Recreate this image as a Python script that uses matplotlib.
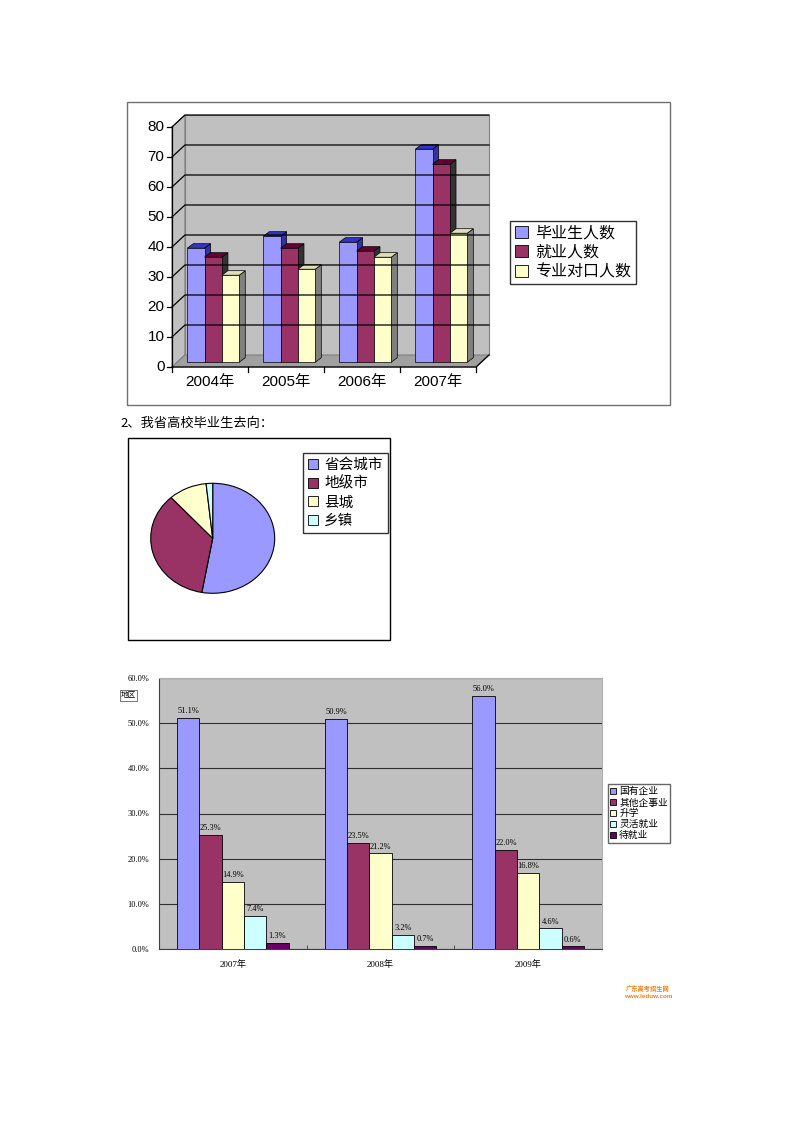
import numpy as np
import matplotlib
matplotlib.use('Agg')
import matplotlib.pyplot as plt
from matplotlib.patches import Polygon, Rectangle, Patch

plt.rcParams['font.family'] = ['Liberation Sans', 'Noto Sans CJK SC']

# --- chart 1 data: graduates / employed / matched-major (3D column) ---
years1 = ['2004年', '2005年', '2006年', '2007年']
graduates = [38, 42, 40, 71]
employed = [35, 38, 37, 66]
matched = [29, 31, 35, 43]
series1 = ['毕业生人数', '就业人数', '专业对口人数']

# --- chart 2 data: destination pie ---
dest_labels = ['省会城市', '地级市', '县城', '乡镇']
dest_share = [52.8, 35.5, 10.0, 1.7]

# --- chart 3 data: employment by type, 2007-2009 ---
years3 = ['2007年', '2008年', '2009年']
series3 = ['国有企业', '其他企事业', '升学', '灵活就业', '待就业']
state_owned = [51.1, 50.9, 56.0]
other_units = [25.3, 23.5, 22.0]
further_study = [14.9, 21.2, 16.8]
flexible = [7.4, 3.2, 4.6]
waiting = [1.3, 0.7, 0.6]

W, H = 800, 1132
fig = plt.figure(figsize=(8, 11.32), dpi=100)
fig.patch.set_facecolor('white')


def fx(px):
    return px / W


def fy(py):
    return 1 - py / H


# frames around chart 1 and chart 2
fig.patches.append(Rectangle((fx(127), fy(405)), fx(543), (405 - 102) / H, transform=fig.transFigure,
                             fill=False, edgecolor='#707070', lw=1))
fig.patches.append(Rectangle((fx(128), fy(640)), fx(262), (640 - 438) / H, transform=fig.transFigure,
                             fill=False, edgecolor='black', lw=1))

# ---------------- chart 1 : fake 3D columns ----------------
DX, DY = 0.17, 4.0          # wall depth offset (x units, value units)
ymax = 80
ax1 = fig.add_axes([fx(172), fy(367), (489 - 172) / W, 252 / H])
ax1.set_xlim(0, 4 + DX)
ax1.set_ylim(0, ymax + DY)
ax1.axis('off')

ax1.add_patch(Polygon([(DX, DY), (4 + DX, DY), (4 + DX, ymax + DY), (DX, ymax + DY)],
                      closed=True, facecolor='#c0c0c0', edgecolor='#808080', lw=0.8, clip_on=False))
ax1.add_patch(Polygon([(0, 0), (DX, DY), (DX, ymax + DY), (0, ymax)],
                      closed=True, facecolor='#c0c0c0', edgecolor='#808080', lw=0.8, clip_on=False))
ax1.add_patch(Polygon([(0, 0), (4, 0), (4 + DX, DY), (DX, DY)],
                      closed=True, facecolor='#a0a0a0', edgecolor='#808080', lw=0.8, clip_on=False))

for v in range(10, ymax + 1, 10):
    ax1.plot([0, DX, 4 + DX], [v, v + DY, v + DY], color='black', lw=0.9, clip_on=False)
ax1.plot([0, 0], [0, ymax], color='black', lw=0.9, clip_on=False)
ax1.plot([0, 4, 4 + DX], [0, 0, DY], color='black', lw=0.9, clip_on=False)
for v in range(0, ymax + 1, 10):
    ax1.plot([-0.06, 0], [v, v], color='black', lw=0.9, clip_on=False)
    ax1.text(-0.1, v, str(v), ha='right', va='center', fontsize=11)
for i in range(5):
    ax1.plot([i, i], [0, -1.5], color='black', lw=0.9, clip_on=False)
for i, lab in enumerate(years1):
    ax1.text(i + 0.5, -2.5, lab, ha='center', va='top', fontsize=11)

front = ['#9999ff', '#993366', '#ffffcc']
top = ['#3333cc', '#660033', '#e0e0b8']
side = ['#333399', '#333333', '#808080']
bw, boff, by0 = 0.228, 0.2, 1.6
ddx, ddy = 0.08, 1.5
for i in range(4):
    for j, vals in enumerate([graduates, employed, matched]):
        h = vals[i]
        x0 = i + boff + j * bw
        yt = by0 + h
        ax1.add_patch(Polygon([(x0 + bw, by0), (x0 + bw + ddx, by0 + ddy), (x0 + bw + ddx, yt + ddy), (x0 + bw, yt)],
                              closed=True, facecolor=side[j], edgecolor='black', lw=0.5, clip_on=False))
        ax1.add_patch(Polygon([(x0, yt), (x0 + bw, yt), (x0 + bw + ddx, yt + ddy), (x0 + ddx, yt + ddy)],
                              closed=True, facecolor=top[j], edgecolor='black', lw=0.5, clip_on=False))
        ax1.bar(x0, h, bottom=by0, width=bw, align='edge', color=front[j], edgecolor='black', lw=0.5,
                clip_on=False)

h1 = [Patch(facecolor=front[j], edgecolor='black', lw=0.6) for j in range(3)]
fig.legend(h1, series1, loc='upper left', bbox_to_anchor=(fx(510), fy(221)), bbox_transform=fig.transFigure,
           borderaxespad=0, fontsize=11.5, frameon=True, fancybox=False, edgecolor='black',
           handlelength=0.8, handleheight=0.8, handletextpad=0.5, labelspacing=0.25, borderpad=0.3)

# ---------------- section heading ----------------
fig.text(fx(120), fy(423), '2、我省高校毕业生去向：', ha='left', va='center', fontsize=9.5,
         family=['Noto Sans CJK SC'])

# ---------------- chart 2 : pie ----------------
cx, cy, rx, ry = 212.7, 538.3, 62, 55
ax2 = fig.add_axes([fx(cx - rx), fy(cy + ry), 2 * rx / W, 2 * ry / H])
pie_colors = ['#9999ff', '#993366', '#ffffcc', '#ccffff']
ax2.pie(dest_share, colors=pie_colors, startangle=90, counterclock=False,
        wedgeprops=dict(edgecolor='black', linewidth=0.8))
ax2.set_aspect('auto')
ax2.set_xlim(-1.0, 1.0)
ax2.set_ylim(-1.0, 1.0)
h2 = [Patch(facecolor=c, edgecolor='black', lw=0.6) for c in pie_colors]
fig.legend(h2, dest_labels, loc='upper left', bbox_to_anchor=(fx(303), fy(453)), bbox_transform=fig.transFigure,
           borderaxespad=0, fontsize=10.5, frameon=True, fancybox=False, edgecolor='black',
           handlelength=0.7, handleheight=0.7, handletextpad=0.4, labelspacing=0.3, borderpad=0.35)

# ---------------- chart 3 : grouped bars ----------------
ax3 = fig.add_axes([fx(159), fy(949), 443 / W, 271 / H])
ax3.set_facecolor('#c0c0c0')
colors3 = ['#9999ff', '#993366', '#ffffcc', '#ccffff', '#660066']
vals3 = [state_owned, other_units, further_study, flexible, waiting]
x = np.arange(len(years3)) + 0.5
bw3 = 0.151
serif = ['Liberation Serif', 'Noto Sans CJK SC']
for j, vals in enumerate(vals3):
    xs = x + (j - 2) * bw3
    ax3.bar(xs, vals, width=bw3, color=colors3[j], edgecolor='black', lw=0.6, label=series3[j], zorder=3)
    for xi, v in zip(xs, vals):
        ax3.text(xi, v + 0.6, f'{v:.1f}%', ha='center', va='bottom', fontsize=6, family=serif, zorder=4)
ax3.set_xlim(0, 3)
ax3.set_ylim(0, 60)
ax3.set_yticks(np.arange(0, 61, 10))
ax3.set_yticklabels([f'{v:.1f}%' for v in np.arange(0, 61, 10)], fontsize=6, family=serif)
ax3.yaxis.grid(True, color='#303030', lw=0.8, zorder=1)
ax3.set_axisbelow(True)
ax3.set_xticks(x)
ax3.set_xticklabels(years3, fontsize=6.5, family=serif)
ax3.tick_params(axis='x', length=0, pad=8)
ax3.tick_params(axis='y', length=0, pad=7)
ax3.set_xticks([1, 2], minor=True)
ax3.tick_params(axis='x', which='minor', direction='in', length=3, color='#404040')
for s in ['top', 'right']:
    ax3.spines[s].set_color('#b0b0b0')
ax3.spines['left'].set_color('#404040')
ax3.spines['bottom'].set_color('#404040')
ax3.legend(loc='upper left', bbox_to_anchor=(fx(608), fy(784)), bbox_transform=fig.transFigure,
           borderaxespad=0, fontsize=7, frameon=True, fancybox=False, edgecolor='#404040',
           handlelength=0.6, handleheight=0.6, handletextpad=0.3, labelspacing=0.1, borderpad=0.25)

fig.text(fx(121), fy(695.5), '地区', ha='left', va='center', fontsize=5.5, family=['Noto Sans CJK SC'],
         bbox=dict(boxstyle='square,pad=0.15', facecolor='white', edgecolor='#606060', lw=0.6))

# watermark
fig.text(fx(648), fy(988), '广东高考招生网', ha='center', va='center', fontsize=4.5, color='#f08010',
         weight='bold', family=['Noto Sans CJK SC'])
fig.text(fx(648), fy(996), 'www.leduw.com', ha='center', va='center', fontsize=4.5, color='#f08010',
         weight='bold')

fig.savefig('out.png', dpi=100)
